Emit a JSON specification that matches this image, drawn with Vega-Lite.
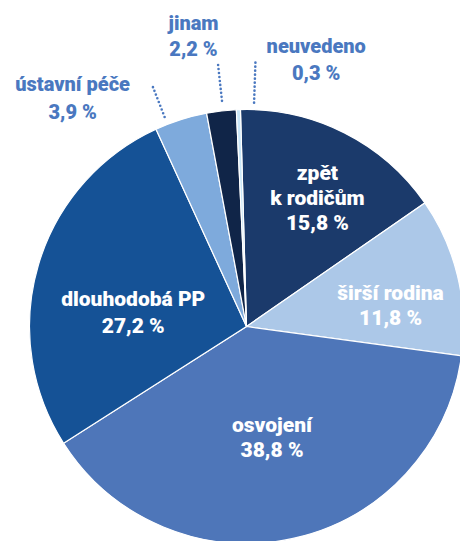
{
  "$schema": "https://vega.github.io/schema/vega-lite/v6.json",
  "width": 427,
  "height": 429,
  "autosize": {"type": "none"},
  "padding": {"left": 33, "top": 112, "right": 0, "bottom": 0},
  "background": "white",
  "config": {"view": {"stroke": null}},
  "data": {
    "values": [
      {"poradi": 1, "kategorie": "zpět k rodičům", "podil": 15.8, "popisek": "zpět\nk rodičům\n15,8 %"},
      {"poradi": 2, "kategorie": "širší rodina", "podil": 11.8, "popisek": "širší rodina\n11,8 %"},
      {"poradi": 3, "kategorie": "osvojení", "podil": 38.8, "popisek": "osvojení\n38,8 %"},
      {"poradi": 4, "kategorie": "dlouhodobá PP", "podil": 27.2, "popisek": "dlouhodobá PP\n27,2 %"},
      {"poradi": 5, "kategorie": "ústavní péče", "podil": 3.9, "popisek": "ústavní péče\n3,9 %"},
      {"poradi": 6, "kategorie": "jinam", "podil": 2.2, "popisek": "jinam\n2,2 %"},
      {"poradi": 7, "kategorie": "neuvedeno", "podil": 0.3, "popisek": "neuvedeno\n0,3 %"}
    ]
  },
  "transform": [
    {"stack": "podil", "groupby": [], "sort": [{"field": "poradi"}], "as": ["s0", "s1"]},
    {"calculate": "(datum.s0 + datum.s1) / 2", "as": "mid"}
  ],
  "layer": [
    {
      "mark": {"type": "arc", "radius": 217, "stroke": "white", "strokeWidth": 1.2},
      "encoding": {
        "theta": {"field": "s0", "type": "quantitative", "stack": null, "scale": {"domain": [0, 100], "range": [-0.02793, 6.25526]}},
        "theta2": {"field": "s1"},
        "color": {
          "field": "kategorie", "type": "nominal", "legend": null,
          "scale": {
            "domain": ["zpět k rodičům", "širší rodina", "osvojení", "dlouhodobá PP", "ústavní péče", "jinam", "neuvedeno"],
            "range": ["#1b3a6b", "#acc8e8", "#4e76b9", "#155296", "#7eaadc", "#102548", "#c8e6f8"]
          }
        }
      }
    },
    {
      "transform": [{"filter": {"field": "kategorie", "equal": "ústavní péče"}}],
      "mark": {"type": "arc", "innerRadius": 225, "radius": 257, "fill": null, "stroke": "#4a78c0", "strokeWidth": 2.6, "strokeDash": [0, 4], "strokeCap": "round", "thetaOffset": -0.065, "theta2Offset": -0.065},
      "encoding": {"theta": {"field": "mid", "type": "quantitative", "stack": null}, "theta2": {"field": "mid"}}
    },
    {
      "transform": [{"filter": {"field": "kategorie", "equal": "jinam"}}],
      "mark": {"type": "arc", "innerRadius": 225, "radius": 263, "fill": null, "stroke": "#4a78c0", "strokeWidth": 2.6, "strokeDash": [0, 4], "strokeCap": "round", "thetaOffset": 0.0077, "theta2Offset": 0.0077},
      "encoding": {"theta": {"field": "mid", "type": "quantitative", "stack": null}, "theta2": {"field": "mid"}}
    },
    {
      "transform": [{"filter": {"field": "kategorie", "equal": "neuvedeno"}}],
      "mark": {"type": "arc", "innerRadius": 224, "radius": 264, "fill": null, "stroke": "#4a78c0", "strokeWidth": 2.6, "strokeDash": [0, 4], "strokeCap": "round", "thetaOffset": 0.0712, "theta2Offset": 0.0712},
      "encoding": {"theta": {"field": "mid", "type": "quantitative", "stack": null}, "theta2": {"field": "mid"}}
    },
    {
      "transform": [{"filter": {"field": "kategorie", "equal": "zpět k rodičům"}}],
      "mark": {"type": "text", "radius": 146, "dx": 5, "dy": -22, "font": "Roboto", "fontWeight": 900, "fontSize": 21, "lineHeight": 25, "lineBreak": "\n", "align": "center", "baseline": "middle", "fill": "white"},
      "encoding": {"theta": {"field": "mid", "type": "quantitative", "stack": null}, "text": {"field": "popisek"}}
    },
    {
      "transform": [{"filter": {"field": "kategorie", "equal": "širší rodina"}}],
      "mark": {"type": "text", "radius": 144, "dx": 4, "dy": 1, "font": "Roboto", "fontWeight": 900, "fontSize": 21, "lineHeight": 25, "lineBreak": "\n", "align": "center", "baseline": "middle", "fill": "white"},
      "encoding": {"theta": {"field": "mid", "type": "quantitative", "stack": null}, "text": {"field": "popisek"}}
    },
    {
      "transform": [{"filter": {"field": "kategorie", "equal": "osvojení"}}],
      "mark": {"type": "text", "radius": 114, "dx": 1, "dy": -12, "font": "Roboto", "fontWeight": 900, "fontSize": 21, "lineHeight": 25, "lineBreak": "\n", "align": "center", "baseline": "middle", "fill": "white"},
      "encoding": {"theta": {"field": "mid", "type": "quantitative", "stack": null}, "text": {"field": "popisek"}}
    },
    {
      "transform": [{"filter": {"field": "kategorie", "equal": "dlouhodobá PP"}}],
      "mark": {"type": "text", "radius": 116, "dx": -2, "dy": 6, "font": "Roboto", "fontWeight": 900, "fontSize": 21, "lineHeight": 27, "lineBreak": "\n", "align": "center", "baseline": "middle", "fill": "white"},
      "encoding": {"theta": {"field": "mid", "type": "quantitative", "stack": null}, "text": {"field": "popisek"}}
    },
    {
      "transform": [{"filter": {"field": "kategorie", "equal": "ústavní péče"}}],
      "mark": {"type": "text", "radius": 287, "dx": -87, "dy": 32, "font": "Roboto", "fontWeight": 900, "fontSize": 20, "lineHeight": 28, "lineBreak": "\n", "align": "center", "baseline": "middle", "fill": "#4a78c0"},
      "encoding": {"theta": {"field": "mid", "type": "quantitative", "stack": null}, "text": {"field": "popisek"}}
    },
    {
      "transform": [{"filter": {"field": "kategorie", "equal": "jinam"}}],
      "mark": {"type": "text", "radius": 294, "dx": -19, "dy": -10, "font": "Roboto", "fontWeight": 900, "fontSize": 20, "lineHeight": 26, "lineBreak": "\n", "align": "center", "baseline": "middle", "fill": "#4a78c0"},
      "encoding": {"theta": {"field": "mid", "type": "quantitative", "stack": null}, "text": {"field": "popisek"}}
    },
    {
      "transform": [{"filter": {"field": "kategorie", "equal": "neuvedeno"}}],
      "mark": {"type": "text", "radius": 275, "dx": 80, "dy": -5, "font": "Roboto", "fontWeight": 900, "fontSize": 20, "lineHeight": 27, "lineBreak": "\n", "align": "center", "baseline": "middle", "fill": "#4a78c0"},
      "encoding": {"theta": {"field": "mid", "type": "quantitative", "stack": null}, "text": {"field": "popisek"}}
    }
  ]
}
